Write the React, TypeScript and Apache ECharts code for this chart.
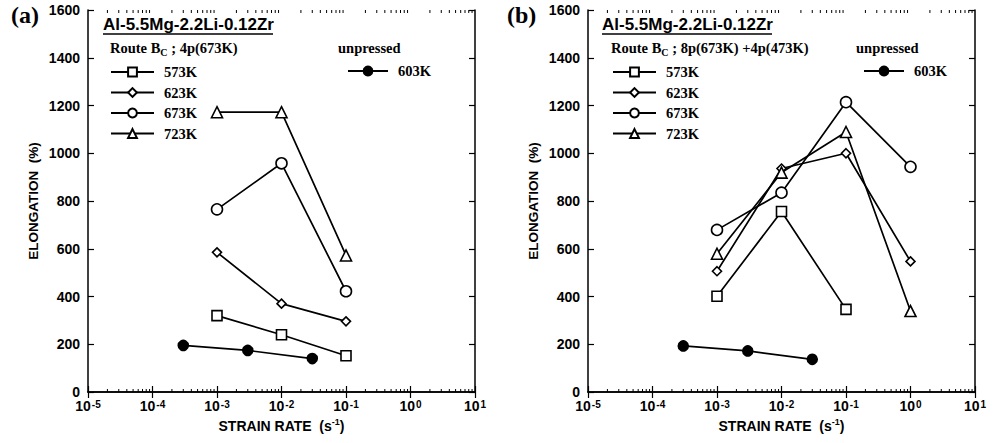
import React, { useEffect, useRef } from "react";
import * as echarts from "echarts";

// ---- data ----
const tempLabels = ["573K", "623K", "673K", "723K"];
const unpressedLabel = "603K";
const yTickMin = 0;
const yTickMax = 1600;
const yTickStep = 200;

const unpressedRates = [3e-4, 3e-3, 3e-2];

// Panel (a): Route Bc ; 4p(673K)
const ratesA = [1e-3, 1e-2, 1e-1];
const a573 = [320, 240, 152];
const a623 = [585, 370, 296];
const a673 = [765, 958, 422];
const a723 = [1172, 1172, 572];
const aUnpressed = [195, 174, 140];

// Panel (b): Route Bc ; 8p(673K) +4p(473K)
const ratesB = [1e-3, 1e-2, 1e-1, 1];
const b573 = [401, 756, 346];
const b623 = [506, 936, 1000, 547];
const b673 = [679, 835, 1214, 943];
const b723 = [579, 919, 1089, 339];
const bUnpressed = [193, 172, 137];

const decades = [1e-5, 1e-4, 1e-3, 1e-2, 1e-1, 1];
const minorMultipliers = [2, 3, 4, 5, 6, 7, 8, 9];

const SANS = "Liberation Sans";
const SERIF = "Liberation Serif";

const symbols: Record<string, { symbol: string; size: number }> = {
  "573K": { symbol: "rect", size: 10 },
  "623K": { symbol: "diamond", size: 9 },
  "673K": { symbol: "circle", size: 11 },
  "723K": { symbol: "triangle", size: 11 },
};

function pairs(xs: number[], ys: number[]) {
  return ys.map((y, i) => [xs[i], y]);
}

export default function App() {
  const ref = useRef<HTMLDivElement>(null);
  useEffect(() => {
    document.body.style.margin = "0";
    const chart = echarts.init(ref.current!, undefined, { renderer: "svg" });

    const minorTicks: number[][] = [];
    decades.forEach((d) => minorMultipliers.forEach((m) => minorTicks.push([d * m, 0])));

    const gridLefts = [88, 588];
    const grids = gridLefts.map((l) => ({ left: l, top: 10, width: 387, height: 382 }));

    const xAxes: any[] = [];
    const yAxes: any[] = [];
    gridLefts.forEach((_, gi) => {
      xAxes.push({
        type: "log",
        logBase: 10,
        gridIndex: gi,
        min: 1e-5,
        max: 10,
        position: "bottom",
        axisLine: { lineStyle: { color: "#000", width: 1.5 } },
        axisTick: { inside: true, length: 6, lineStyle: { color: "#000", width: 1.2 } },
        splitLine: { show: false },
        axisLabel: {
          margin: 7,
          formatter: (v: number) => `10{sup|${Math.round(Math.log10(v))}}`,
          color: "#000",
          fontFamily: SANS,
          fontWeight: "bold",
          fontSize: 14,
          lineHeight: 14,
          rich: { sup: { fontSize: 10, fontFamily: SANS, fontWeight: "bold", verticalAlign: "top", lineHeight: 9, padding: [0, 0, 0, 1] } },
        },
        name: "STRAIN RATE  (s{sup|-1})",
        nameLocation: "middle",
        nameGap: 19,
        nameTextStyle: {
          color: "#000",
          fontFamily: SANS,
          fontWeight: "bold",
          fontSize: 14,
          lineHeight: 16,
          rich: { sup: { fontSize: 9, fontFamily: SANS, fontWeight: "bold", verticalAlign: "top", lineHeight: 9 } },
        },
      });
      xAxes.push({
        type: "log",
        logBase: 10,
        gridIndex: gi,
        min: 1e-5,
        max: 10,
        position: "top",
        axisLine: { lineStyle: { color: "#000", width: 1.5 } },
        axisTick: { inside: true, length: 6, lineStyle: { color: "#000", width: 1.2 } },
        splitLine: { show: false },
        axisLabel: { show: false },
      });
      yAxes.push({
        type: "value",
        gridIndex: gi,
        min: yTickMin,
        max: yTickMax,
        interval: yTickStep,
        position: "left",
        axisLine: { show: true, lineStyle: { color: "#000", width: 1.5 } },
        axisTick: { show: true, inside: true, length: 6, lineStyle: { color: "#000", width: 1.2 } },
        splitLine: { show: false },
        axisLabel: {
          margin: 8,
          formatter: (v: number) => String(v),
          color: "#000",
          fontFamily: SANS,
          fontWeight: "bold",
          fontSize: 14,
          lineHeight: 14,
        },
        name: "ELONGATION  (%)",
        nameLocation: "middle",
        nameGap: 48,
        nameTextStyle: { color: "#000", fontFamily: SANS, fontWeight: "bold", fontSize: 13.5 },
      });
      yAxes.push({
        type: "value",
        gridIndex: gi,
        min: yTickMin,
        max: yTickMax,
        interval: yTickStep,
        position: "right",
        axisLine: { show: true, lineStyle: { color: "#000", width: 1.5 } },
        axisTick: { show: true, inside: true, length: 6, lineStyle: { color: "#000", width: 1.2 } },
        splitLine: { show: false },
        axisLabel: { show: false },
      });
    });

    const lineSeries = (name: string, data: number[][], gi: number, filled = false) => {
      const s = filled ? { symbol: "circle", size: 10 } : symbols[name];
      return {
        type: "line",
        name,
        xAxisIndex: gi * 2,
        yAxisIndex: gi * 2,
        data,
        symbol: s.symbol,
        symbolSize: s.size,
        showAllSymbol: true,
        lineStyle: { color: "#000", width: 1.7 },
        itemStyle: { color: filled ? "#000" : "#fff", borderColor: "#000", borderWidth: 1.6 },
        z: 3,
      };
    };

    const series: any[] = [
      lineSeries("573K", pairs(ratesA, a573), 0),
      lineSeries("623K", pairs(ratesA, a623), 0),
      lineSeries("673K", pairs(ratesA, a673), 0),
      lineSeries("723K", pairs(ratesA, a723), 0),
      lineSeries(unpressedLabel, pairs(unpressedRates, aUnpressed), 0, true),
      lineSeries("573K", pairs(ratesB, b573), 1),
      lineSeries("623K", pairs(ratesB, b623), 1),
      lineSeries("673K", pairs(ratesB, b673), 1),
      lineSeries("723K", pairs(ratesB, b723), 1),
      lineSeries(unpressedLabel, pairs(unpressedRates, bUnpressed), 1, true),
    ];
    [0, 1].forEach((gi) => {
      series.push({
        type: "custom",
        name: "minor",
        xAxisIndex: gi * 2,
        yAxisIndex: gi * 2,
        silent: true,
        data: minorTicks,
        renderItem: (params: any, api: any) => {
          const pb = api.coord([api.value(0), yTickMin]);
          const pt = api.coord([api.value(0), yTickMax]);
          return {
            type: "group",
            children: [
              { type: "line", shape: { x1: pb[0], y1: pb[1], x2: pb[0], y2: pb[1] - 3 }, style: { stroke: "#000", lineWidth: 1 } },
              { type: "line", shape: { x1: pt[0], y1: pt[1], x2: pt[0], y2: pt[1] + 3 }, style: { stroke: "#000", lineWidth: 1 } },
            ],
          };
        },
      });
    });

    const legendText = { color: "#000", fontFamily: SERIF, fontWeight: "bold", fontSize: 14.5, lineHeight: 14, padding: [0, 0, 0, 5] };
    const legendBase = {
      orient: "vertical",
      itemWidth: 43,
      itemHeight: 11,
      itemGap: 5.5,
      padding: 0,
      selectedMode: false,
      textStyle: legendText,
    };
    const legends = [
      { ...legendBase, data: tempLabels, left: 110, top: 64.5 },
      { ...legendBase, itemWidth: 40, data: [unpressedLabel], left: 347, top: 63.5 },
      { ...legendBase, data: tempLabels, left: 612, top: 64.5 },
      { ...legendBase, itemWidth: 40, data: [unpressedLabel], left: 863, top: 63.5 },
    ];

    const routeRich = { sub: { fontSize: 10, fontFamily: SERIF, fontWeight: "bold", verticalAlign: "bottom", lineHeight: 10 } };
    const panelTexts = [
      { tag: "(a)", tagX: 11, titleX: 103, route: "Route B{sub|C} ; 4p(673K)", routeX: 110, unX: 338 },
      { tag: "(b)", tagX: 507, titleX: 602, route: "Route B{sub|C} ; 8p(673K) +4p(473K)", routeX: 611, unX: 856 },
    ];
    const graphic: any[] = [];
    panelTexts.forEach((p) => {
      graphic.push({
        type: "text",
        left: p.tagX,
        top: 3,
        style: { text: p.tag, fontFamily: SERIF, fontWeight: "bold", fontSize: 24, fill: "#000" },
      });
      graphic.push({
        type: "text",
        left: p.titleX,
        top: 16,
        style: { text: "Al-5.5Mg-2.2Li-0.12Zr", fontFamily: SANS, fontWeight: "bold", fontSize: 17, fill: "#000" },
      });
      graphic.push({
        type: "line",
        shape: { x1: p.titleX, y1: 34, x2: p.titleX + 170, y2: 34 },
        style: { stroke: "#000", lineWidth: 1.3 },
      });
      graphic.push({
        type: "text",
        left: p.routeX,
        top: 39,
        style: { text: p.route, fontFamily: SERIF, fontWeight: "bold", fontSize: 14.5, fill: "#000", lineHeight: 18, rich: routeRich },
      });
      graphic.push({
        type: "text",
        left: p.unX,
        top: 40,
        style: { text: "unpressed", fontFamily: SERIF, fontWeight: "bold", fontSize: 14.5, fill: "#000" },
      });
    });

    chart.setOption({
      animation: false,
      backgroundColor: "#fff",
      grid: grids,
      xAxis: xAxes,
      yAxis: yAxes,
      legend: legends,
      series,
      graphic,
    });
    return () => chart.dispose();
  }, []);
  return <div ref={ref} style={{ width: 1000, height: 443 }} />;
}
